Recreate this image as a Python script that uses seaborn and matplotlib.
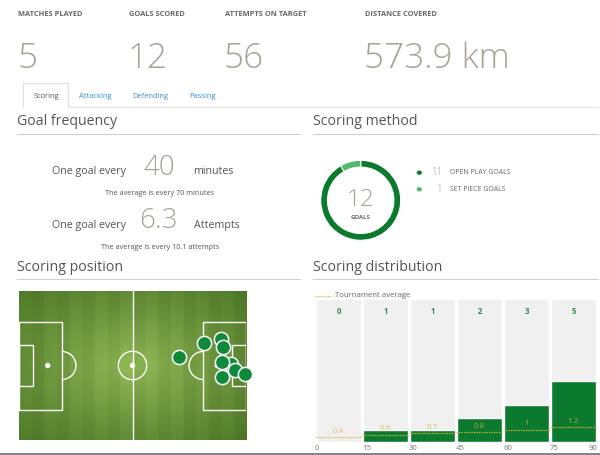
import numpy as np
import pandas as pd
import matplotlib
matplotlib.use("Agg")
import matplotlib.pyplot as plt
from matplotlib.lines import Line2D
from matplotlib.patches import Rectangle, Arc, Ellipse, Circle
import seaborn as sns

# ---------------- data ----------------
header_labels = ["MATCHES PLAYED", "GOALS SCORED", "ATTEMPTS ON TARGET", "DISTANCE COVERED"]
header_values = ["5", "12", "56", "573.9 km"]
tabs = ["Scoring", "Attacking", "Defending", "Passing"]

minutes_per_goal = 40
avg_minutes_per_goal = 70
attempts_per_goal = 6.3
avg_attempts_per_goal = 10.1

method_labels = ["OPEN PLAY GOALS", "SET PIECE GOALS"]
method_values = [11, 1]
total_goals = 12

# goal positions on a 105 x 68 pitch (y measured from top)
goal_x = [93.4, 94.4, 97.9, 93.9, 85.6, 74.1, 93.8, 99.9, 104.7]
goal_y = [21.9, 25.6, 33.5, 32.5, 23.9, 30.3, 39.1, 36.1, 37.9]

periods = ["0-15", "15-30", "30-45", "45-60", "60-75", "75-90"]
period_ticks = ["0", "15", "30", "45", "60", "75", "90"]
goals_per_period = [0, 1, 1, 2, 3, 5]
tournament_avg = [0.4, 0.6, 0.7, 0.8, 1, 1.2]

# ---------------- style ----------------
sns.set_style("white")
plt.rcParams["font.family"] = ["Open Sans", "DejaVu Sans"]

W, H = 600, 455
fig = plt.figure(figsize=(6, 4.55), dpi=100)
fig.patch.set_facecolor("white")

def fx(x):
    return x / W

def fy(y):
    return 1 - y / H

def txt(x, y, s, **kw):
    fig.text(fx(x), fy(y), s, **kw)

def hline(x0, x1, y, color="#d6d6d6", lw=0.8):
    fig.add_artist(Line2D([fx(x0), fx(x1)], [fy(y), fy(y)], transform=fig.transFigure,
                          color=color, lw=lw))

def vline(x, y0, y1, color="#d6d6d6", lw=0.8):
    fig.add_artist(Line2D([fx(x), fx(x)], [fy(y0), fy(y1)], transform=fig.transFigure,
                          color=color, lw=lw))

def axes_px(x0, y0, x1, y1):
    return fig.add_axes([fx(x0), fy(y1), (x1 - x0) / W, (y1 - y0) / H])

BIG = "#aaa295"
DARK = "#555555"
GREEN = "#0b7a2f"
LGREEN = "#52b86e"
GOLD = "#e0b33a"

# ---------------- header ----------------
hx = [18, 129, 225, 365]
for x, lab, val in zip(hx, header_labels, header_values):
    txt(x, 14, lab, fontsize=5.4, fontweight="bold", color="#666666", va="center", ha="left")
    txt(x - 1, 68, val, fontsize=25.3, fontweight="light", color=BIG, va="baseline", ha="left")

# ---------------- tabs ----------------
hline(23, 68, 83, color="#dedede")
vline(23, 83, 107, color="#dedede")
vline(68, 83, 107, color="#dedede")
hline(68, 598, 107, color="#e4e4e4")
tab_x = [46, 95.5, 150, 202]
for i, (x, t) in enumerate(zip(tab_x, tabs)):
    txt(x, 96.5, t, fontsize=5.4, color="#555555" if i == 0 else "#3a8ad0", ha="center", va="center")

# ---------------- section titles ----------------
for x, y, t in [(17, 122, "Goal frequency"), (313, 122, "Scoring method"),
                (17, 267.5, "Scoring position"), (313, 267.5, "Scoring distribution")]:
    txt(x, y, t, fontsize=10.2, color=DARK, ha="left", va="center")
hline(17, 300, 133.5, color="#cfcfcf")
hline(313, 598, 133.5, color="#cfcfcf")
hline(17, 300, 279, color="#cfcfcf")
hline(313, 598, 279, color="#cfcfcf")

# ---------------- goal frequency ----------------
txt(52, 174.3, "One goal every", fontsize=7.7, color=DARK, ha="left", va="baseline")
txt(159, 175, f"{minutes_per_goal}", fontsize=20, fontweight="light", color=BIG, ha="center", va="baseline")
txt(193, 174.3, "minutes", fontsize=7.7, color=DARK, ha="left", va="baseline")
txt(160, 193.3, f"The average is every {avg_minutes_per_goal} minutes", fontsize=5.2, color=DARK,
    ha="center", va="center")
txt(52, 228.3, "One goal every", fontsize=7.7, color=DARK, ha="left", va="baseline")
txt(158.8, 228.5, f"{attempts_per_goal}", fontsize=20, fontweight="light", color=BIG, ha="center", va="baseline")
txt(194, 228.3, "Attempts", fontsize=7.7, color=DARK, ha="left", va="baseline")
txt(160.5, 247.7, f"The average is every {avg_attempts_per_goal} attempts", fontsize=5.2, color=DARK,
    ha="center", va="center")

# ---------------- scoring method donut ----------------
axd = axes_px(320.7, 160.3, 400.7, 240.3)
axd.pie(method_values, colors=[GREEN, LGREEN], startangle=90, counterclock=False,
        radius=1, wedgeprops=dict(width=0.17, edgecolor="white", linewidth=0.8))
axd.set_aspect("equal")
axd.set_xlim(-1, 1)
axd.set_ylim(-1, 1)
axd.axis("off")
txt(360.7, 199.5, f"{total_goals}", fontsize=17.5, fontweight="light", color=BIG, ha="center", va="center")
txt(360.7, 217.3, "GOALS", fontsize=4.3, fontweight="bold", color="#666666", ha="center", va="center")

for y, col, v, lab in [(172.7, GREEN, method_values[0], method_labels[0]),
                       (189.3, LGREEN, method_values[1], method_labels[1])]:
    fig.add_artist(Circle((fx(419.3), fy(y)), 1.9 / W, transform=fig.transFigure, color=col))
    txt(442, y, f"{v}", fontsize=7, fontweight="light", color=BIG, ha="right", va="center")
    txt(450, y, lab, fontsize=5, color="#666666", ha="left", va="center")

# ---------------- scoring position (pitch) ----------------
axp = axes_px(19, 291, 246, 440)
nx, ny = 460, 300
X, Y = np.meshgrid(np.linspace(0, 1, nx), np.linspace(0, 1, ny))
r = np.sqrt(((X - 0.5) / 0.5) ** 2 + ((Y - 0.5) / 0.5) ** 2) / np.sqrt(2)
t = np.clip(r, 0, 1) ** 0.9
cc = np.array([0x90, 0xb8, 0x55]) / 255
ec = np.array([0x4d, 0x77, 0x27]) / 255
img = cc * (1 - t[..., None]) + ec * t[..., None]
stripe = np.where(np.floor(X * 18) % 2 == 0, 1.025, 0.975)
img = np.clip(img * stripe[..., None], 0, 1)
axp.imshow(img, extent=(0, 105, 68, 0), aspect="auto", interpolation="bilinear", zorder=0)

lc, lw = "white", 1.0
axp.plot([52.5, 52.5], [0, 68], color=lc, lw=lw, zorder=1)
axp.add_patch(Ellipse((52.5, 34), 13.1, 13.0, fill=False, ec=lc, lw=lw, zorder=1))
axp.add_patch(Circle((52.5, 34), 0.9, color=lc, zorder=1))
for side in (0, 1):
    def mx(v):
        return v if side == 0 else 105 - v
    x0, x1 = sorted([mx(0), mx(19.75)])
    axp.add_patch(Rectangle((x0, 14.0), x1 - x0, 40.3, fill=False, ec=lc, lw=lw, zorder=1))
    x0, x1 = sorted([mx(0), mx(6.6)])
    axp.add_patch(Rectangle((x0, 24.6), x1 - x0, 18.8, fill=False, ec=lc, lw=lw, zorder=1))
    axp.add_patch(Ellipse((mx(13.3), 34), 1.8, 1.8, color=lc, zorder=1))
    if side == 0:
        axp.add_patch(Arc((19.75, 34), 13.2, 12.8, theta1=-90, theta2=90, ec=lc, lw=lw, zorder=1))
    else:
        axp.add_patch(Arc((85.25, 34), 13.2, 12.8, theta1=90, theta2=270, ec=lc, lw=lw, zorder=1))

goals_df = pd.DataFrame({"x": goal_x, "y": goal_y})
sns.scatterplot(data=goals_df, x="x", y="y", ax=axp, s=105, color="#0f8a3b",
                edgecolor="white", linewidth=1.1, zorder=3, clip_on=False, legend=False)
axp.set_xlim(0, 105)
axp.set_ylim(68, 0)
axp.axis("off")

# ---------------- scoring distribution ----------------
axb = axes_px(315, 299, 597, 442)
YMAX = 11.75
dist_df = pd.DataFrame({"period": periods, "goals": goals_per_period, "avg": tournament_avg})
dist_df["full"] = YMAX
sns.barplot(data=dist_df, x="period", y="full", color="#f0f0f0", saturation=1, width=0.965, ax=axb)
sns.barplot(data=dist_df, x="period", y="goals", color=GREEN, saturation=1, width=0.965, ax=axb)
for i, row in dist_df.iterrows():
    axb.hlines(row["avg"], i - 0.5, i + 0.5, colors=GOLD, linestyles=(0, (1, 1)), lw=0.9, zorder=5)
    label = f"{row['avg']:g}"
    axb.text(i, row["avg"] + 0.2, label, ha="center", va="bottom", fontsize=5.8,
             color=GOLD, alpha=0.75, zorder=6)
    axb.text(i, 10.7, f"{row['goals']}", ha="center", va="center", fontsize=5.6,
             fontweight="bold", color="#2e8b50", zorder=6)
axb.set_xlim(-0.5, 5.5)
axb.set_ylim(0, YMAX)
axb.set_xticks(np.arange(len(period_ticks)) - 0.5)
axb.set_xticklabels(period_ticks)
axb.set_yticks([])
axb.set_xlabel("")
axb.set_ylabel("")
axb.tick_params(axis="x", length=0, pad=2.5, labelsize=5.6, labelcolor="#777777")
tl = axb.get_xticklabels()
for lab in tl[:-1]:
    lab.set_ha("left")
tl[-1].set_ha("right")
for sp in axb.spines.values():
    sp.set_visible(False)
axb.patch.set_alpha(0)

# legend for tournament average
fig.add_artist(Line2D([fx(315), fx(333)], [fy(295.5), fy(295.5)], transform=fig.transFigure,
                      color=GOLD, lw=0.9, linestyle=(0, (1, 1))))
txt(335, 295.5, "Tournament average", fontsize=5.6, color="#666666", ha="left", va="center")

# bottom edge
hline(0, 600, 453.5, color="#7a7a7a", lw=1.3)

fig.savefig("out.png", dpi=100)
